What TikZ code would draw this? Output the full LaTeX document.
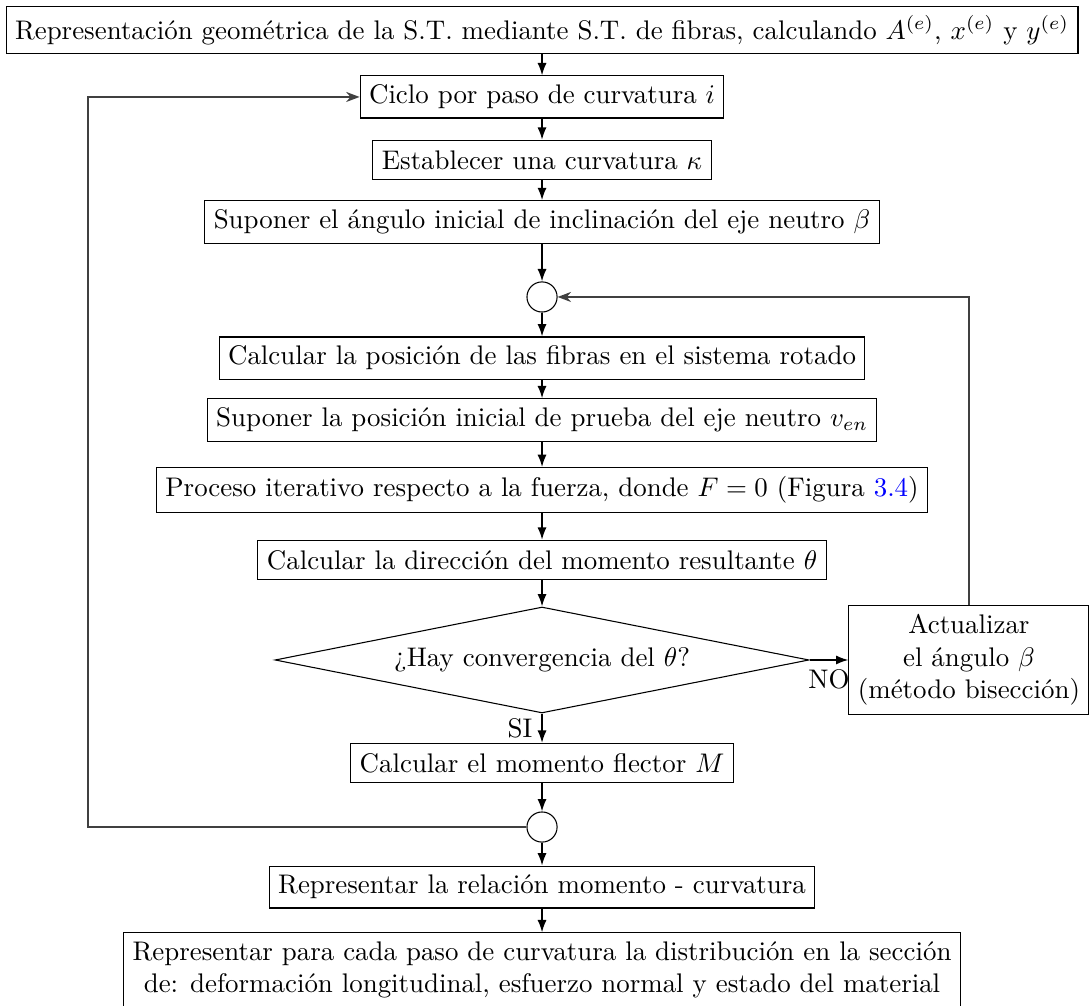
\documentclass[tikz,border=0pt]{standalone}
\usepackage{xcolor}
\usepackage{tikz}
\usepackage{amsmath}
\usetikzlibrary{shapes.geometric, arrows.meta, positioning, calc}

\begin{document}
\begin{tikzpicture}[
    node distance=23pt,
    on grid,
    procbox/.style={draw, align=center, minimum height=14.6pt},
    junction/.style={draw, circle, minimum size=11.2pt, inner sep=0pt},
    decision/.style={draw, diamond, inner sep=0pt, aspect=5, minimum width=198.5pt, minimum height=39.4pt},
    arrow/.style={-{Latex[length=4.6pt, width=3.4pt]}, semithick},
    loopback/.style={-{Stealth[length=5pt]}, semithick, black!75},
]
    \useasboundingbox (-201.5pt,11.15pt) rectangle (203.7pt,-362.5pt);

    \node[procbox] (geo) {Representación geométrica de la S.T. mediante S.T. de fibras, calculando $A^{(e)}$, $x^{(e)}$ y $y^{(e)}$};
    \node[procbox, below=24.9pt of geo] (ciclo) {Ciclo por paso de curvatura $i$};
    \node[procbox, below=23.4pt of ciclo] (kappa) {Establecer una curvatura $\kappa$};
    \node[procbox, below=23.05pt of kappa] (beta) {Suponer el ángulo inicial de inclinación del eje neutro $\beta$};
    \node[junction, below=27.9pt of beta] (c1) {};
    \node[procbox, below=22.7pt of c1] (fibras) {Calcular la posición de las fibras en el sistema rotado};
    \node[procbox, below=23.05pt of fibras] (ven) {Suponer la posición inicial de prueba del eje neutro $v_{en}$};
    \node[procbox, below=26pt of ven] (fuerza) {Proceso iterativo respecto a la fuerza, donde $F=0$ (Figura \textcolor{blue}{3.4})};
    \node[procbox, below=26pt of fuerza] (theta) {Calcular la dirección del momento resultante $\theta$};
    \node[decision, below=37.2pt of theta] (dia) {¿Hay convergencia del $\theta$?};
    \node[procbox, right=158.7pt of dia] (upd) {Actualizar\\el ángulo $\beta$\\(método bisección)};
    \node[procbox, below=38.3pt of dia] (mom) {Calcular el momento flector $M$};
    \node[junction, below=23.8pt of mom] (c2) {};
    \node[procbox, below=22.3pt of c2] (repr) {Representar la relación momento - curvatura};
    \node[procbox, below=30.9pt of repr] (plot) {Representar para cada paso de curvatura la distribución en la sección\\de: deformación longitudinal, esfuerzo normal y estado del material};
    \coordinate[left=168.8pt of c2] (back);

    % main flow
    \draw[arrow] (geo) -- (ciclo);
    \draw[arrow] (ciclo) -- (kappa);
    \draw[arrow] (kappa) -- (beta);
    \draw[arrow] (beta) -- (c1);
    \draw[arrow] (c1) -- (fibras);
    \draw[arrow] (fibras) -- (ven);
    \draw[arrow] (ven) -- (fuerza);
    \draw[arrow] (fuerza) -- (theta);
    \draw[arrow] (theta) -- (dia);
    \draw[arrow] (dia) -- (mom) node[midway, left] {SI};
    \draw[arrow] (dia) -- (upd) node[midway, below] {NO};
    \draw[arrow] (mom) -- (c2);
    \draw[arrow] (c2) -- (repr);
    \draw[arrow] (repr) -- (plot);

    % loops
    \draw[loopback] (upd) |- (c1);
    \draw[loopback] (c2) -- (back) |- (ciclo);
\end{tikzpicture}
\end{document}
